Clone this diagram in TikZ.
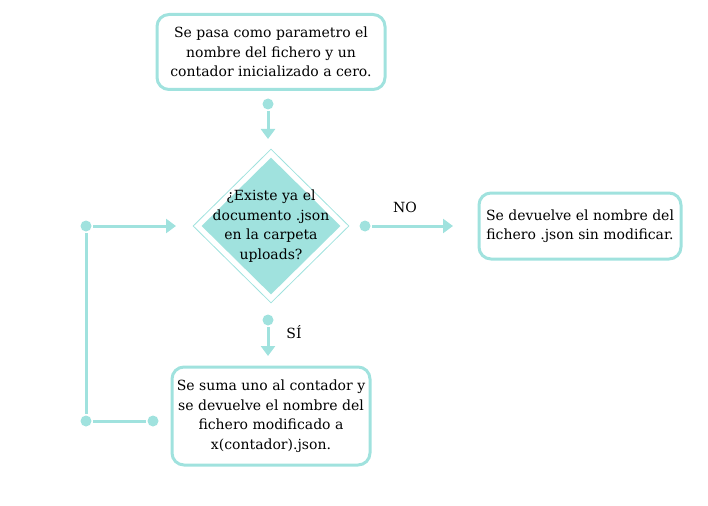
\documentclass[tikz,border=0pt]{standalone}
\usepackage{fontspec}
\setmainfont{DejaVu Serif}
\usetikzlibrary{arrows.meta,shapes.geometric}
\definecolor{mint}{RGB}{160,226,222}

\begin{document}
\begin{tikzpicture}[x=1pt, y=-1pt, line width=3pt, >={Triangle[length=10pt,width=14pt]}]
   \useasboundingbox (0,0) rectangle (708,505);
   \begin{scope}[every node/.style={font=\fontsize{14}{19.5}\selectfont, align=center, draw=mint, rounded corners=12pt, line width=3pt}]
    \node[minimum width=228pt, minimum height=75pt] (start) at (271,52) {Se pasa como parametro el\\nombre del fichero y un\\contador inicializado a cero.};
    \node[minimum width=202pt, minimum height=66pt] (keep) at (580,226) {Se devuelve el nombre del\\fichero .json sin modificar.};
    \node[minimum width=198pt, minimum height=98pt] (count) at (271,416) {Se suma uno al contador y\\se devuelve el nombre del\\fichero modificado a\\x(contador).json.};
   \end{scope}

   \node[diamond, draw=mint, line width=0.8pt, minimum width=156pt, minimum height=154pt, inner sep=0pt] (ask) at (271,226) {};
   \node[diamond, fill=mint, minimum width=140pt, minimum height=138pt, inner sep=0pt] (askfill) at (271,226) {};
   \node[font=\fontsize{14}{19.5}\selectfont, align=center] (asktext) at (271,226) {¿Existe ya el\\documento .json\\en la carpeta\\uploads?};

   \begin{scope}[every node/.style={circle, fill=mint, inner sep=0pt, minimum size=11pt}]
    \node (d1) at (268,104) {};
    \node (d2) at (365,226) {};
    \node (d3) at (268,320) {};
    \node (d4) at (153,421) {};
    \node (c1) at (86,421) {};
    \node (c2) at (86,226) {};
   \end{scope}
   \coordinate (e1) at (268,139);
   \coordinate (e2) at (453,226);
   \coordinate (e3) at (268,356);
   \coordinate (e4) at (176,226);

   \node[font=\fontsize{14}{16}\selectfont] (no) at (405,207) {NO};
   \node[font=\fontsize{14}{16}\selectfont] (si) at (294,332) {SÍ};

   \begin{scope}[draw=mint]
    \draw[->] (d1) -- (e1);
    \draw[->] (d2) -- (e2);
    \draw[->] (d3) -- (e3);
    \draw (d4) -- (c1) -- (c2);
    \draw[->] (c2) -- (e4);
   \end{scope}
\end{tikzpicture}
\end{document}
